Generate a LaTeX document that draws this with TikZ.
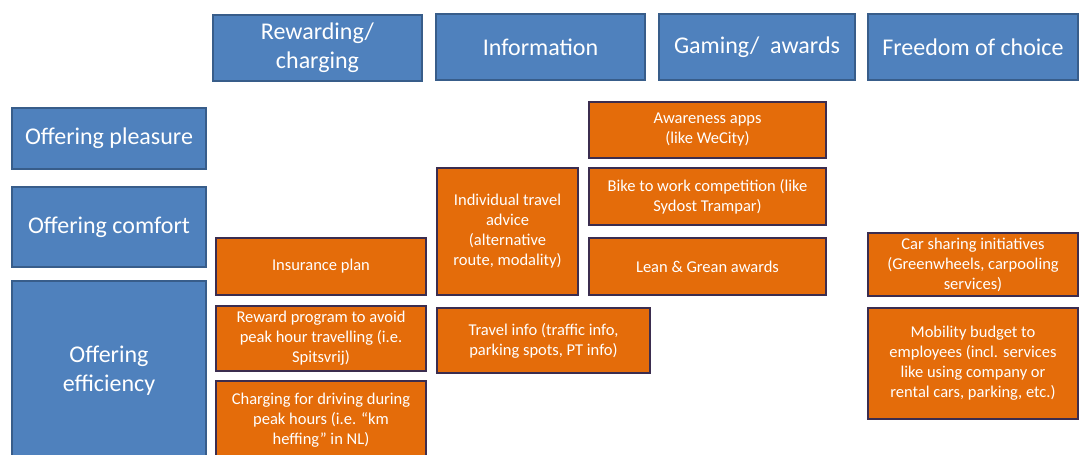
\documentclass[tikz,border=0pt]{standalone}
\usepackage{fontspec}
\setmainfont{Carlito}
\definecolor{bluefill}{HTML}{4F81BD}
\definecolor{blueedge}{HTML}{385D8A}
\definecolor{orangefill}{HTML}{E46C0A}
\definecolor{orangeedge}{HTML}{3B2D4F}
\begin{document}
\begin{tikzpicture}[x=1pt,y=-1pt,
  hd/.style={draw=blueedge, fill=bluefill, line width=1.5pt, text=white,
    font=\fontsize{24}{29}\selectfont, align=center, inner sep=0pt},
  ob/.style={draw=orangeedge, fill=orangefill, line width=2.2pt, text=white,
    font=\fontsize{16.5}{20}\selectfont, align=center, inner sep=0pt}]
\useasboundingbox (0,0) rectangle (1080,455);
\clip (0,0) rectangle (1080,455);
% column headers
\node[hd, minimum width=209pt, minimum height=66pt] (rc) at (317.5,48) {Rewarding/\\charging};
\node[hd, minimum width=209pt, minimum height=66pt] (info) at (540.5,47) {Information};
\node[hd, minimum width=196pt, minimum height=66pt] (game) at (757,47) {Gaming/~ awards};
\node[hd, minimum width=210pt, minimum height=66pt] (free) at (973,47) {Freedom of choice};
% row headers
\node[hd, minimum width=194pt, minimum height=61pt] (pleas) at (109,138.5) {Offering pleasure};
\node[hd, minimum width=194pt, minimum height=80pt] (comf) at (109,227) {Offering comfort};
\node[hd, minimum width=194pt, minimum height=180pt] (eff) at (109,371) {Offering\\efficiency};
% cells
\node[ob, minimum width=210pt, minimum height=57pt] (ins) at (321,266.5) {Insurance plan};
\node[ob, minimum width=210pt, minimum height=65pt] (rew) at (321,338.5) {Reward program to avoid\\peak hour travelling (i.e.\\Spitsvrij)};
\node[ob, minimum width=210pt, minimum height=78pt] (chg) at (321,420) {Charging for driving during\\peak hours (i.e. “km\\heffing” in NL)};
\node[ob, minimum width=141pt, minimum height=127pt] (indiv) at (507.5,231.5) {Individual travel\\advice\\(alternative\\route, modality)};
\node[ob, minimum width=213pt, minimum height=65pt] (travel) at (543.5,340.5) {Travel info (traffic info,\\parking spots, PT info)};
\node[ob, minimum width=237pt, minimum height=56pt] (aware) at (707.5,130) {Awareness apps\\(like WeCity)};
\node[ob, minimum width=237pt, minimum height=57pt] (bike) at (707.5,196.5) {Bike to work competition (like\\Sydost Trampar)};
\node[ob, minimum width=237pt, minimum height=57pt] (lean) at (707.5,266.5) {Lean \& Grean awards};
\node[ob, minimum width=210pt, minimum height=63pt] (car) at (973,264.5) {Car sharing initiatives\\(Greenwheels, carpooling\\services)};
\node[ob, minimum width=210pt, minimum height=111pt] (mob) at (973,363.5) {Mobility budget to\\employees (incl. services\\like using company or\\rental cars, parking, etc.)};
\end{tikzpicture}
\end{document}
